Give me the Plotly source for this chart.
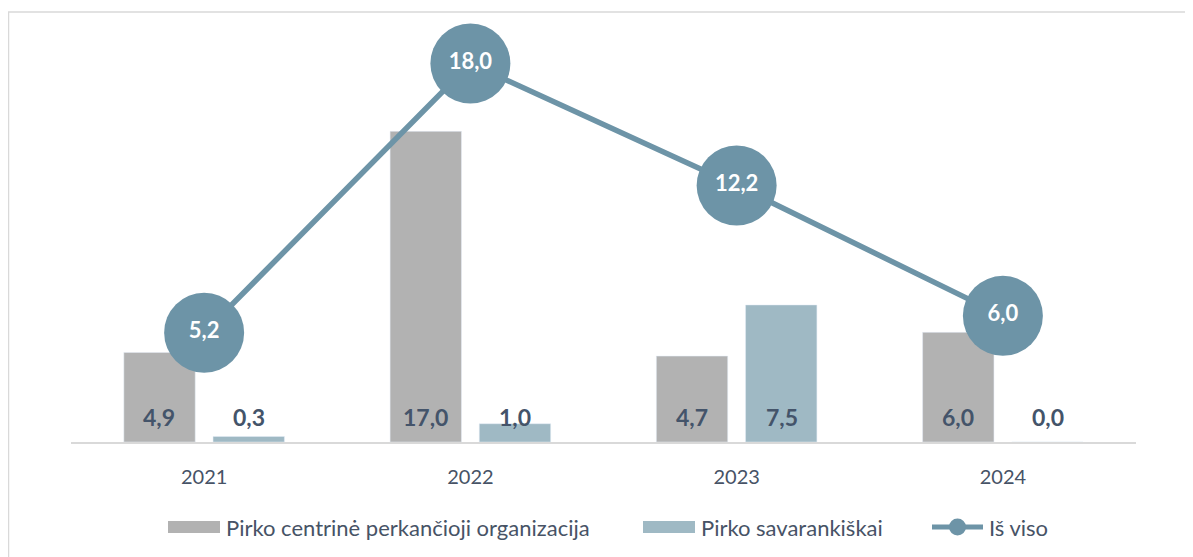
import plotly.graph_objects as go

years = ["2021", "2022", "2023", "2024"]
central = [4.9, 17.0, 4.7, 6.0]
independent = [0.3, 1.0, 7.5, 0.0]
total = [5.2, 18.0, 12.2, 6.0]

name_central = "Pirko centrinė perkančioji organizacija"
name_indep = "Pirko savarankiškai"
name_total = "Iš viso"

def fmt(v):
    return f"{v:.1f}".replace(".", ",")

GRAY = "#b2b2b2"
LBLUE = "#9fb9c4"
LINE = "#6d94a7"
LABEL = "#44546a"
TEXT = "#475366"
FONT = "Lato"

# layout geometry (figure pixels; page body adds an 8px offset)
W, H = 1185, 549
ML, MR, MT, MB = 63, 57, 32, 115
PW, PH = W - ML - MR, H - MT - MB

def px(X):   # page x -> paper x
    return (X - 8 - ML) / PW

def py(Y):   # page y -> paper y
    return (H - MB + 8 - Y) / PH

fig = go.Figure()
fig.add_trace(go.Bar(x=years, y=central, name=name_central, marker_color=GRAY,
                     hoverinfo="skip", showlegend=False))
fig.add_trace(go.Bar(x=years, y=independent, name=name_indep, marker_color=LBLUE,
                     hoverinfo="skip", showlegend=False))
fig.add_trace(go.Scatter(x=years, y=total, name=name_total, yaxis="y2",
                         mode="lines+markers+text",
                         line=dict(color=LINE, width=5.5),
                         marker=dict(size=80, color=LINE, line=dict(width=0)),
                         text=[fmt(v) for v in total], textposition="middle center",
                         textfont=dict(family=FONT, size=22, color="white", weight="bold"),
                         cliponaxis=False, hoverinfo="skip", showlegend=False))

annotations = []
for i, (a, b) in enumerate(zip(central, independent)):
    for val, dx in ((a, -45), (b, 45)):
        annotations.append(dict(x=i, y=0, xref="x", yref="y", text=fmt(val),
                                showarrow=False, xshift=dx, yshift=25,
                                yanchor="middle",
                                font=dict(family=FONT, size=23, color=LABEL, weight="bold")))

# custom legend
LEG_Y = 527
legend_items = [
    ("bar", GRAY, name_central, 168, 220, 225),
    ("bar", LBLUE, name_indep, 643, 695, 700),
    ("line", LINE, name_total, 930, 985, 988),
]
shapes = [dict(type="rect", xref="paper", yref="paper", x0=px(8.5), x1=1.2,
               y0=-0.6, y1=py(12), line=dict(color="#d9d9d9", width=1.5),
               layer="below")]
for kind, col, name, x0, x1, tx in legend_items:
    if kind == "bar":
        shapes.append(dict(type="rect", xref="paper", yref="paper",
                           x0=px(x0), x1=px(x1), y0=py(LEG_Y + 6), y1=py(LEG_Y - 6),
                           fillcolor=col, line=dict(width=0)))
    else:
        shapes.append(dict(type="line", xref="paper", yref="paper",
                           x0=px(x0 + 2), x1=px(x1 - 2), y0=py(LEG_Y), y1=py(LEG_Y),
                           line=dict(color=col, width=5)))
        cx = (x0 + x1) / 2
        shapes.append(dict(type="circle", xref="paper", yref="paper",
                           x0=px(cx - 8.5), x1=px(cx + 8.5),
                           y0=py(LEG_Y + 8.5), y1=py(LEG_Y - 8.5),
                           fillcolor=col, line=dict(width=0)))
    annotations.append(dict(x=px(tx), y=py(LEG_Y), xref="paper", yref="paper",
                            text=name, showarrow=False, xanchor="left", yanchor="middle",
                            borderpad=0,
                            font=dict(family=FONT, size=22, color=TEXT)))

fig.update_layout(
    width=W, height=H,
    margin=dict(l=ML, r=MR, t=MT, b=MB),
    paper_bgcolor="white", plot_bgcolor="white",
    font=dict(family=FONT, color=TEXT),
    barmode="group", bargap=0.33, bargroupgap=0.2,
    xaxis=dict(type="category", categoryorder="array", categoryarray=years,
               range=[-0.5, len(years) - 0.5], autorange=False,
               showline=True, linecolor="#d9d9d9", linewidth=2, ticks="",
               tickfont=dict(size=20, color=TEXT), ticklabelstandoff=16,
               showgrid=False, zeroline=False),
    yaxis=dict(range=[0, 22.0], visible=False, showgrid=False, zeroline=False),
    yaxis2=dict(range=[0, 19.12], overlaying="y", side="right", visible=False,
                showgrid=False, zeroline=False),
    showlegend=False,
    annotations=annotations,
    shapes=shapes,
)

fig.write_html("out.html")
